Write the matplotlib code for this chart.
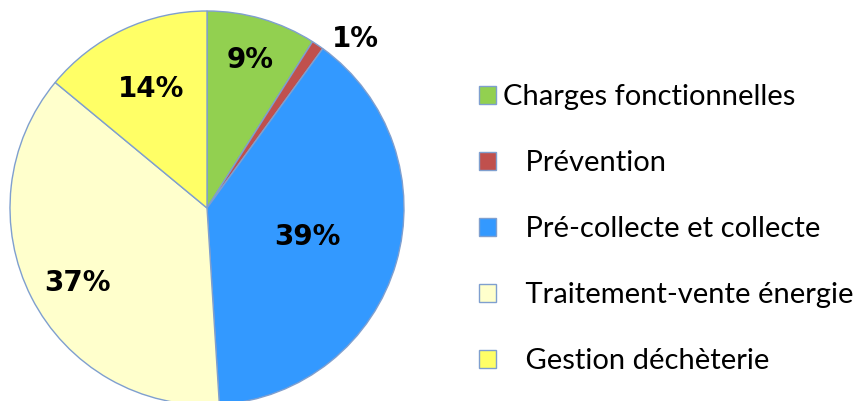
import numpy as np
import matplotlib.pyplot as plt

# budget split
categories = ['Charges fonctionnelles', 'Prévention', 'Pré-collecte et collecte',
              'Traitement-vente énergie', 'Gestion déchèterie']
shares = [9, 1, 39, 37, 14]
pct_labels = ['9%', '1%', '39%', '37%', '14%']

colors = ['#92D050', '#C0504D', '#3399FF', '#FFFFCC', '#FFFF66']
label_radius = [0.78, 1.14, 0.53, 0.76, 0.67]
label_shift = [0, -7, 0, 3, 0]  # degrees

fig = plt.figure(figsize=(8.64, 4.01), dpi=100)
ax = fig.add_axes([10 / 864, -4 / 401, 394 / 864, 394 / 401])

wedges, _ = ax.pie(shares, colors=colors, startangle=90, counterclock=False,
                   radius=1, wedgeprops=dict(edgecolor='#7f9fcf', linewidth=1))
ax.set_xlim(-1, 1)
ax.set_ylim(-1, 1)
ax.set_aspect('equal')

for w, lab, r, d in zip(wedges, pct_labels, label_radius, label_shift):
    ang = np.deg2rad((w.theta1 + w.theta2) / 2 + d)
    ax.text(r * np.cos(ang), r * np.sin(ang), lab, ha='center', va='center',
            fontsize=20, fontweight='bold', family='DejaVu Sans', clip_on=False)

legend_labels = [categories[0]] + ['   ' + c for c in categories[1:]]
fig.legend(wedges, legend_labels, loc='upper left', bbox_to_anchor=(479 / 864, 1 - 84 / 401),
           frameon=False, prop={'family': 'Lato', 'size': 21},
           handlelength=0.57, handleheight=0.57, handletextpad=0.24,
           labelspacing=1.37, borderpad=0, borderaxespad=0)

fig.savefig('out.png', dpi=100)
